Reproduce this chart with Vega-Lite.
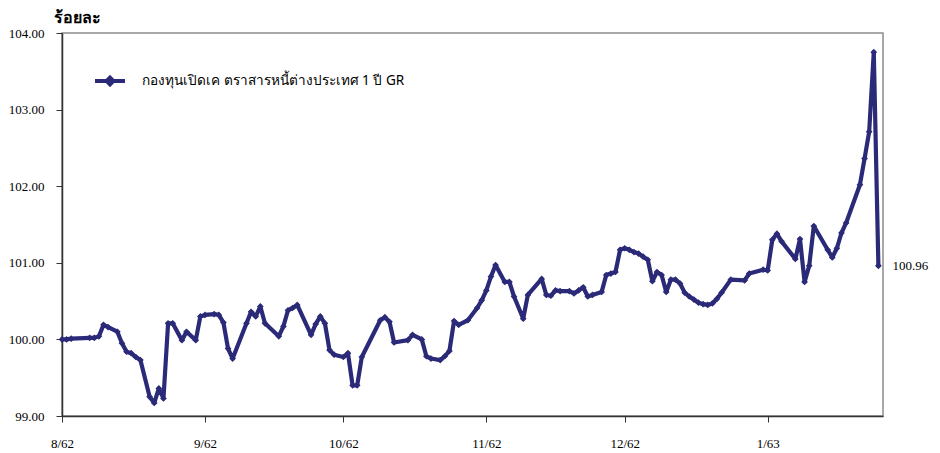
{
  "$schema": "https://vega.github.io/schema/vega-lite/v6.json",
  "width": 821,
  "height": 383,
  "autosize": "none",
  "padding": {"left": 62, "top": 33, "right": 57, "bottom": 37},
  "background": "white",
  "data": {
    "values": [
      {"date": "2019-08-01", "value": 100.00},
      {"date": "2019-08-02", "value": 100.00},
      {"date": "2019-08-03", "value": 100.01},
      {"date": "2019-08-07", "value": 100.02},
      {"date": "2019-08-08", "value": 100.02},
      {"date": "2019-08-09", "value": 100.04},
      {"date": "2019-08-10", "value": 100.19},
      {"date": "2019-08-11", "value": 100.16},
      {"date": "2019-08-13", "value": 100.10},
      {"date": "2019-08-14", "value": 99.95},
      {"date": "2019-08-15", "value": 99.84},
      {"date": "2019-08-16", "value": 99.82},
      {"date": "2019-08-17", "value": 99.77},
      {"date": "2019-08-18", "value": 99.73},
      {"date": "2019-08-20", "value": 99.25},
      {"date": "2019-08-21", "value": 99.17},
      {"date": "2019-08-22", "value": 99.36},
      {"date": "2019-08-23", "value": 99.23},
      {"date": "2019-08-24", "value": 100.21},
      {"date": "2019-08-25", "value": 100.21},
      {"date": "2019-08-27", "value": 99.99},
      {"date": "2019-08-28", "value": 100.10},
      {"date": "2019-08-30", "value": 99.99},
      {"date": "2019-08-31", "value": 100.30},
      {"date": "2019-09-01", "value": 100.32},
      {"date": "2019-09-03", "value": 100.33},
      {"date": "2019-09-04", "value": 100.32},
      {"date": "2019-09-05", "value": 100.22},
      {"date": "2019-09-06", "value": 99.88},
      {"date": "2019-09-07", "value": 99.75},
      {"date": "2019-09-10", "value": 100.21},
      {"date": "2019-09-11", "value": 100.36},
      {"date": "2019-09-12", "value": 100.30},
      {"date": "2019-09-13", "value": 100.43},
      {"date": "2019-09-14", "value": 100.21},
      {"date": "2019-09-17", "value": 100.04},
      {"date": "2019-09-18", "value": 100.17},
      {"date": "2019-09-19", "value": 100.38},
      {"date": "2019-09-20", "value": 100.41},
      {"date": "2019-09-21", "value": 100.45},
      {"date": "2019-09-24", "value": 100.06},
      {"date": "2019-09-25", "value": 100.20},
      {"date": "2019-09-26", "value": 100.30},
      {"date": "2019-09-27", "value": 100.21},
      {"date": "2019-09-28", "value": 99.86},
      {"date": "2019-09-29", "value": 99.80},
      {"date": "2019-10-01", "value": 99.77},
      {"date": "2019-10-02", "value": 99.82},
      {"date": "2019-10-03", "value": 99.40},
      {"date": "2019-10-04", "value": 99.40},
      {"date": "2019-10-05", "value": 99.77},
      {"date": "2019-10-09", "value": 100.25},
      {"date": "2019-10-10", "value": 100.29},
      {"date": "2019-10-11", "value": 100.23},
      {"date": "2019-10-12", "value": 99.96},
      {"date": "2019-10-15", "value": 99.99},
      {"date": "2019-10-16", "value": 100.06},
      {"date": "2019-10-18", "value": 100.00},
      {"date": "2019-10-19", "value": 99.78},
      {"date": "2019-10-20", "value": 99.75},
      {"date": "2019-10-22", "value": 99.73},
      {"date": "2019-10-23", "value": 99.78},
      {"date": "2019-10-24", "value": 99.85},
      {"date": "2019-10-25", "value": 100.24},
      {"date": "2019-10-26", "value": 100.19},
      {"date": "2019-10-28", "value": 100.25},
      {"date": "2019-10-30", "value": 100.41},
      {"date": "2019-10-31", "value": 100.51},
      {"date": "2019-11-01", "value": 100.64},
      {"date": "2019-11-02", "value": 100.82},
      {"date": "2019-11-03", "value": 100.97},
      {"date": "2019-11-05", "value": 100.75},
      {"date": "2019-11-06", "value": 100.75},
      {"date": "2019-11-07", "value": 100.56},
      {"date": "2019-11-09", "value": 100.27},
      {"date": "2019-11-10", "value": 100.58},
      {"date": "2019-11-13", "value": 100.79},
      {"date": "2019-11-14", "value": 100.58},
      {"date": "2019-11-15", "value": 100.57},
      {"date": "2019-11-16", "value": 100.64},
      {"date": "2019-11-17", "value": 100.63},
      {"date": "2019-11-19", "value": 100.63},
      {"date": "2019-11-20", "value": 100.60},
      {"date": "2019-11-21", "value": 100.64},
      {"date": "2019-11-22", "value": 100.68},
      {"date": "2019-11-23", "value": 100.56},
      {"date": "2019-11-24", "value": 100.58},
      {"date": "2019-11-26", "value": 100.62},
      {"date": "2019-11-27", "value": 100.84},
      {"date": "2019-11-28", "value": 100.86},
      {"date": "2019-11-29", "value": 100.88},
      {"date": "2019-11-30", "value": 101.17},
      {"date": "2019-12-01", "value": 101.19},
      {"date": "2019-12-02", "value": 101.17},
      {"date": "2019-12-03", "value": 101.14},
      {"date": "2019-12-04", "value": 101.12},
      {"date": "2019-12-05", "value": 101.08},
      {"date": "2019-12-06", "value": 101.04},
      {"date": "2019-12-07", "value": 100.76},
      {"date": "2019-12-08", "value": 100.88},
      {"date": "2019-12-09", "value": 100.84},
      {"date": "2019-12-10", "value": 100.62},
      {"date": "2019-12-11", "value": 100.78},
      {"date": "2019-12-12", "value": 100.78},
      {"date": "2019-12-13", "value": 100.73},
      {"date": "2019-12-14", "value": 100.61},
      {"date": "2019-12-15", "value": 100.56},
      {"date": "2019-12-16", "value": 100.52},
      {"date": "2019-12-17", "value": 100.48},
      {"date": "2019-12-18", "value": 100.46},
      {"date": "2019-12-19", "value": 100.45},
      {"date": "2019-12-20", "value": 100.47},
      {"date": "2019-12-21", "value": 100.53},
      {"date": "2019-12-22", "value": 100.61},
      {"date": "2019-12-24", "value": 100.78},
      {"date": "2019-12-27", "value": 100.77},
      {"date": "2019-12-28", "value": 100.86},
      {"date": "2019-12-31", "value": 100.91},
      {"date": "2020-01-01", "value": 100.90},
      {"date": "2020-01-02", "value": 101.30},
      {"date": "2020-01-03", "value": 101.38},
      {"date": "2020-01-04", "value": 101.28},
      {"date": "2020-01-07", "value": 101.05},
      {"date": "2020-01-08", "value": 101.31},
      {"date": "2020-01-09", "value": 100.75},
      {"date": "2020-01-10", "value": 100.96},
      {"date": "2020-01-11", "value": 101.48},
      {"date": "2020-01-14", "value": 101.17},
      {"date": "2020-01-15", "value": 101.07},
      {"date": "2020-01-16", "value": 101.19},
      {"date": "2020-01-17", "value": 101.39},
      {"date": "2020-01-18", "value": 101.52},
      {"date": "2020-01-21", "value": 102.02},
      {"date": "2020-01-22", "value": 102.36},
      {"date": "2020-01-23", "value": 102.71},
      {"date": "2020-01-24", "value": 103.75},
      {"date": "2020-01-25", "value": 100.96}
    ]
  },
  "config": {
    "view": {"stroke": "#8c8c8c", "strokeWidth": 1.5},
    "axis": {
      "grid": false,
      "domainColor": "#333333",
      "domainWidth": 1.5,
      "tickColor": "#333333",
      "tickWidth": 1,
      "labelColor": "#000000",
      "labelFont": "Liberation Serif",
      "labelFontSize": 13
    }
  },
  "encoding": {
    "x": {
      "field": "date",
      "type": "temporal",
      "scale": {
        "type": "utc",
        "domain": [
          {"year": 2019, "month": 8, "date": 1, "utc": true},
          {"year": 2020, "month": 1, "date": 26, "utc": true}
        ]
      },
      "axis": {
        "title": null,
        "values": [
          {"year": 2019, "month": 8, "date": 1, "utc": true},
          {"year": 2019, "month": 9, "date": 1, "utc": true},
          {"year": 2019, "month": 10, "date": 1, "utc": true},
          {"year": 2019, "month": 11, "date": 1, "utc": true},
          {"year": 2019, "month": 12, "date": 1, "utc": true},
          {"year": 2020, "month": 1, "date": 1, "utc": true}
        ],
        "labelExpr": "(utcmonth(datum.value) + 1) + '/' + ((utcyear(datum.value) + 543) % 100)",
        "tickSize": 6,
        "labelPadding": 15,
        "labelAngle": 0,
        "labelFlush": false,
        "labelOverlap": false
      }
    },
    "y": {
      "field": "value",
      "type": "quantitative",
      "scale": {"domain": [99, 104], "zero": false, "nice": false},
      "axis": {
        "values": [99, 100, 101, 102, 103, 104],
        "format": ".2f",
        "title": "ร้อยละ",
        "titleAngle": 0,
        "titleX": -9,
        "titleY": -16,
        "titleAlign": "left",
        "titleBaseline": "middle",
        "titleFont": "Noto Sans",
        "titleFontSize": 16,
        "titleFontWeight": "bold",
        "titleColor": "#000000",
        "tickSize": 6,
        "labelPadding": 12,
        "labelFlush": false,
        "labelOverlap": false
      }
    }
  },
  "layer": [
    {
      "mark": {"type": "line", "strokeWidth": 4.2, "strokeJoin": "round", "strokeCap": "round"},
      "encoding": {
        "color": {
          "datum": "กองทุนเปิดเค ตราสารหนี้ต่างประเทศ 1 ปี GR",
          "type": "nominal",
          "scale": {"range": ["#2b2a78"]},
          "legend": {
            "orient": "none",
            "legendX": 31,
            "legendY": 31,
            "title": null,
            "padding": 0,
            "symbolType": "M-1,0L1,0M0,-0.22L0.22,0L0,0.22L-0.22,0Z",
            "symbolSize": 900,
            "symbolStrokeWidth": 4,
            "symbolFillColor": "#2b2a78",
            "symbolStrokeColor": "#2b2a78",
            "labelFont": "Noto Sans",
            "labelFontSize": 13.6,
            "labelColor": "#000000",
            "labelOffset": 15,
            "labelLimit": 500
          }
        }
      }
    },
    {
      "mark": {"type": "point", "shape": "diamond", "filled": true, "size": 45, "color": "#2b2a78", "opacity": 1}
    },
    {
      "transform": [{"filter": "utcmonth(datum.date) == 0 && utcdate(datum.date) == 25"}],
      "mark": {"type": "text", "align": "left", "baseline": "middle", "dx": 14, "font": "Liberation Serif", "fontSize": 13, "color": "#000000"},
      "encoding": {"text": {"field": "value", "type": "quantitative", "format": ".2f"}}
    }
  ]
}
